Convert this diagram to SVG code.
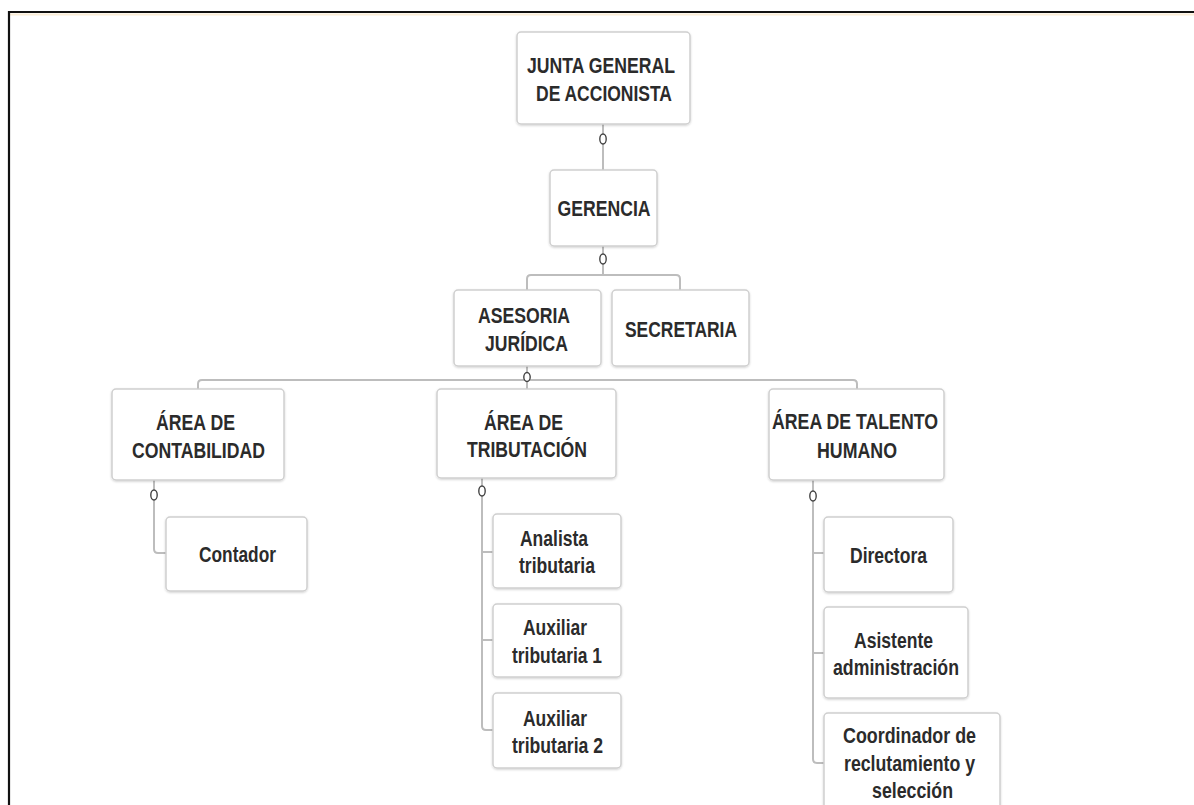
<svg xmlns="http://www.w3.org/2000/svg" width="1194" height="805" viewBox="0 0 1194 805">
<defs>
<filter id="sh" x="-10%" y="-10%" width="120%" height="130%">
<feDropShadow dx="0" dy="1" stdDeviation="1" flood-color="#000" flood-opacity="0.18"/>
</filter>
</defs>
<style>
.box{fill:#fff;stroke:#cfcfcf;stroke-width:1.5;filter:url(#sh)}
.t{font-family:"Liberation Sans Narrow","Liberation Sans",Arial,sans-serif;font-size:22.5px;font-weight:bold;fill:#2b2b2b;text-anchor:middle}
.c{fill:none;stroke:#bdbdbd;stroke-width:2}
.m{fill:#fff;stroke:#444;stroke-width:1.4}
</style>
<rect x="0" y="0" width="1194" height="805" fill="#fff"/>
<line x1="9" y1="14.5" x2="1194" y2="14.5" stroke="#fbeed8" stroke-width="2"/>
<line x1="8" y1="12" x2="1194" y2="12" stroke="#111" stroke-width="2.2"/>
<line x1="9" y1="11" x2="9" y2="805" stroke="#111" stroke-width="2.2"/>

<g id="connectors">
<path class="c" d="M603,124 V170"/>
<path class="c" d="M603,246 V275"/>
<path class="c" d="M527,290 V279 Q527,275 531,275 H676 Q680,275 680,279 V290"/>
<path class="c" d="M527,366 V380"/>
<path class="c" d="M198,389 V384 Q198,380 202,380 H853 Q857,380 857,384 V389"/>
<path class="c" d="M527,380 V389"/>
<path class="c" d="M154,480 V549 Q154,553 158,553 H166"/>
<path class="c" d="M482,478 V726 Q482,730 486,730 H493"/>
<path class="c" d="M482,552 H493 M482,640 H493"/>
<path class="c" d="M813,480 V759 Q813,763 817,763 H824"/>
<path class="c" d="M813,553 H824 M813,653 H824"/>
<ellipse class="m" cx="603" cy="139" rx="3.2" ry="5"/>
<ellipse class="m" cx="603" cy="259" rx="3.2" ry="5"/>
<ellipse class="m" cx="527" cy="377" rx="3.2" ry="4.5"/>
<ellipse class="m" cx="154" cy="495" rx="3.2" ry="5"/>
<ellipse class="m" cx="482" cy="491" rx="3.2" ry="5"/>
<ellipse class="m" cx="813" cy="496" rx="3.2" ry="5"/>
</g>

<g id="junta">
<rect class="box" x="517" y="32" width="173" height="92" rx="4"/>
<text class="t" x="601" y="73" textLength="148" lengthAdjust="spacingAndGlyphs">JUNTA GENERAL</text>
<text class="t" x="604" y="101" textLength="136" lengthAdjust="spacingAndGlyphs">DE ACCIONISTA</text>
</g>
<g id="gerencia">
<rect class="box" x="550" y="170" width="107" height="76" rx="4"/>
<text class="t" x="604" y="216" textLength="93" lengthAdjust="spacingAndGlyphs">GERENCIA</text>
</g>
<g id="asesoria">
<rect class="box" x="454" y="290" width="147" height="76" rx="4"/>
<text class="t" x="524" y="323" textLength="92" lengthAdjust="spacingAndGlyphs">ASESORIA</text>
<text class="t" x="526.5" y="351" textLength="83" lengthAdjust="spacingAndGlyphs">JURÍDICA</text>
</g>
<g id="secretaria">
<rect class="box" x="612" y="290" width="137" height="76" rx="4"/>
<text class="t" x="681" y="337" textLength="112" lengthAdjust="spacingAndGlyphs">SECRETARIA</text>
</g>
<g id="contabilidad">
<rect class="box" x="112" y="389" width="172" height="91" rx="4"/>
<text class="t" x="195.5" y="430" textLength="79" lengthAdjust="spacingAndGlyphs">ÁREA DE</text>
<text class="t" x="198.5" y="458" textLength="133" lengthAdjust="spacingAndGlyphs">CONTABILIDAD</text>
</g>
<g id="contador">
<rect class="box" x="166" y="517" width="141" height="74" rx="4"/>
<text class="t" x="237.5" y="562" textLength="77" lengthAdjust="spacingAndGlyphs">Contador</text>
</g>
<g id="tributacion">
<rect class="box" x="437" y="389" width="179" height="89" rx="4"/>
<text class="t" x="523.5" y="430" textLength="79" lengthAdjust="spacingAndGlyphs">ÁREA DE</text>
<text class="t" x="527" y="457" textLength="120" lengthAdjust="spacingAndGlyphs">TRIBUTACIÓN</text>
</g>
<g id="analista">
<rect class="box" x="493" y="514" width="128" height="74" rx="4"/>
<text class="t" x="554" y="546" textLength="68" lengthAdjust="spacingAndGlyphs">Analista</text>
<text class="t" x="557" y="573" textLength="76" lengthAdjust="spacingAndGlyphs">tributaria</text>
</g>
<g id="auxiliar1">
<rect class="box" x="493" y="604" width="128" height="73" rx="4"/>
<text class="t" x="555" y="635" textLength="64" lengthAdjust="spacingAndGlyphs">Auxiliar</text>
<text class="t" x="557" y="663" textLength="90" lengthAdjust="spacingAndGlyphs">tributaria 1</text>
</g>
<g id="auxiliar2">
<rect class="box" x="493" y="693" width="128" height="75" rx="4"/>
<text class="t" x="555" y="726" textLength="64" lengthAdjust="spacingAndGlyphs">Auxiliar</text>
<text class="t" x="557.5" y="753" textLength="91" lengthAdjust="spacingAndGlyphs">tributaria 2</text>
</g>
<g id="talento">
<rect class="box" x="769" y="389" width="175" height="91" rx="4"/>
<text class="t" x="855" y="429" textLength="166" lengthAdjust="spacingAndGlyphs">ÁREA DE TALENTO</text>
<text class="t" x="857" y="458" textLength="80" lengthAdjust="spacingAndGlyphs">HUMANO</text>
</g>
<g id="directora">
<rect class="box" x="824" y="517" width="129" height="75" rx="4"/>
<text class="t" x="888.5" y="563" textLength="77" lengthAdjust="spacingAndGlyphs">Directora</text>
</g>
<g id="asistente">
<rect class="box" x="824" y="607" width="144" height="91" rx="4"/>
<text class="t" x="893.5" y="648" textLength="79" lengthAdjust="spacingAndGlyphs">Asistente</text>
<text class="t" x="896" y="675" textLength="126" lengthAdjust="spacingAndGlyphs">administración</text>
</g>
<g id="coordinador">
<rect class="box" x="824" y="713" width="176" height="110" rx="4"/>
<text class="t" x="909.5" y="743" textLength="133" lengthAdjust="spacingAndGlyphs">Coordinador de</text>
<text class="t" x="909.5" y="771" textLength="131" lengthAdjust="spacingAndGlyphs">reclutamiento y</text>
<text class="t" x="912.5" y="798" textLength="81" lengthAdjust="spacingAndGlyphs">selección</text>
</g>
</svg>
